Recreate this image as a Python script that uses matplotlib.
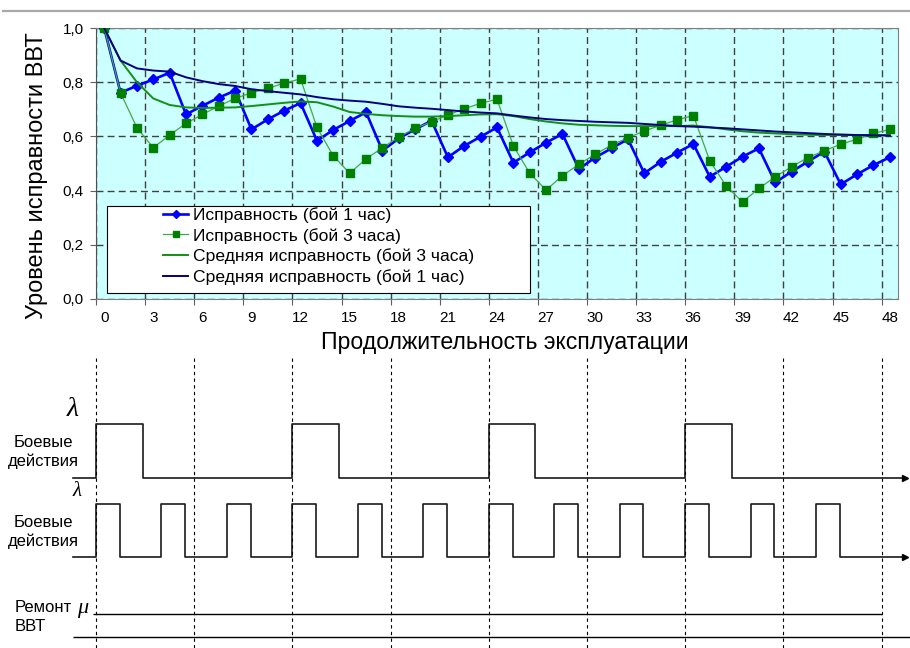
import matplotlib.pyplot as plt
import numpy as np
from matplotlib.lines import Line2D
from matplotlib.patches import Rectangle

plt.rcParams['font.family'] = ['Liberation Sans', 'DejaVu Sans']

# исходные данные (часы эксплуатации)
hours = np.arange(49)
ispr_1h = [1.0, 0.761, 0.787, 0.81, 0.835, 0.681, 0.713, 0.743, 0.769, 0.626,
           0.663, 0.695, 0.723, 0.584, 0.624, 0.657, 0.689, 0.547, 0.593, 0.626,
           0.658, 0.523, 0.565, 0.599, 0.633, 0.503, 0.541, 0.577, 0.609, 0.48,
           0.522, 0.556, 0.59, 0.464, 0.506, 0.54, 0.572, 0.451, 0.488, 0.525,
           0.556, 0.43, 0.47, 0.507, 0.544, 0.423, 0.46, 0.494, 0.523]
ispr_3h = [1.0, 0.761, 0.632, 0.558, 0.605, 0.648, 0.681, 0.712, 0.74, 0.761,
           0.777, 0.797, 0.812, 0.633, 0.528, 0.464, 0.517, 0.558, 0.598, 0.63,
           0.654, 0.679, 0.702, 0.722, 0.737, 0.565, 0.464, 0.402, 0.455, 0.497,
           0.534, 0.568, 0.595, 0.62, 0.641, 0.661, 0.677, 0.51, 0.417, 0.358,
           0.408, 0.451, 0.488, 0.522, 0.547, 0.571, 0.59, 0.611, 0.626]
sred_3h = [1.0, 0.88, 0.80, 0.74, 0.716, 0.707, 0.705, 0.706, 0.707, 0.712,
           0.718, 0.724, 0.729, 0.726, 0.71, 0.69, 0.683, 0.678, 0.675, 0.673,
           0.673, 0.675, 0.678, 0.681, 0.682, 0.675, 0.664, 0.655, 0.648, 0.643,
           0.641, 0.639, 0.638, 0.638, 0.638, 0.638, 0.64, 0.634, 0.626, 0.619,
           0.614, 0.611, 0.608, 0.606, 0.605, 0.605, 0.605, 0.605, 0.605]
sred_1h = [1.0, 0.88, 0.851, 0.843, 0.839, 0.818, 0.804, 0.793, 0.786, 0.774,
           0.767, 0.761, 0.755, 0.745, 0.737, 0.732, 0.728, 0.72, 0.711, 0.706,
           0.702, 0.697, 0.692, 0.688, 0.685, 0.677, 0.67, 0.664, 0.66, 0.657,
           0.654, 0.652, 0.65, 0.646, 0.642, 0.638, 0.636, 0.633, 0.63, 0.626,
           0.622, 0.618, 0.615, 0.612, 0.609, 0.607, 0.605, 0.604, 0.603]
labels = ['Исправность (бой 1 час)', 'Исправность (бой 3 часа)',
          'Средняя исправность (бой 3 часа)', 'Средняя исправность (бой 1 час)']

yticks = [0.0, 0.2, 0.4, 0.6, 0.8, 1.0]
ytick_labels = ['0,0', '0,2', '0,4', '0,6', '0,8', '1,0']
xticks = np.arange(0, 49, 3)

# график боевых действий и ремонта
boi_3h_start = [-0.5, 11.5, 23.5, 35.5]
boi_3h_len = 2.85
boi_1h_start = [-0.5, 3.5, 7.5, 11.5, 15.5, 19.5, 23.5, 27.5, 31.5, 35.5, 39.5, 43.5]
boi_1h_len = 1.45
razmetka = np.arange(-0.5, 48, 6)

W, H = 910, 648
fig = plt.figure(figsize=(W / 100, H / 100), dpi=100)
L, R, T, B = 96, 898, 28, 299
ax = fig.add_axes([L / W, 1 - B / H, (R - L) / W, (B - T) / H])
ax.set_facecolor('#CCFFFF')

ax.plot(hours, ispr_1h, color='#0000FF', lw=1.9, marker='D', ms=5.5, zorder=3)
ax.plot(hours, ispr_3h, color='#45A845', lw=0.9, marker='s', ms=5.5,
        mfc='#008000', mec='#008000', zorder=3)
ax.plot(hours, sred_3h, color='#138F13', lw=1.4, zorder=3)
ax.plot(hours, sred_1h, color='#000080', lw=1.4, zorder=3)

ax.set_xlim(-0.5, 48.5)
ax.set_ylim(0, 1.0)
ax.set_xticks(np.arange(-0.5, 49, 3))
ax.set_xticks(xticks, [str(v) for v in xticks], minor=True)
ax.tick_params(axis='x', which='major', length=4, labelbottom=False, color='#606060')
ax.tick_params(axis='x', which='minor', length=0, labelsize=11, pad=9)
ax.set_yticks(yticks, ytick_labels)
ax.tick_params(axis='y', length=4, labelsize=11, pad=5, color='#606060')
ax.grid(True, which='major', color='#404040', linestyle=(0, (5, 3)), lw=1)
for s in ax.spines.values():
    s.set_color('#808080')
ax.spines['left'].set_color('#505050')

# легенда в рамке
ax.add_patch(Rectangle((107 / W, 1 - 293 / H), 423 / W, 87 / H, transform=fig.transFigure,
                       facecolor='white', edgecolor='black', lw=0.8, zorder=4.5, clip_on=False))
ax.legend(ax.get_lines(), labels, loc='upper left', bbox_to_anchor=(163 / W, 1 - 207 / H),
          bbox_transform=fig.transFigure, frameon=False, fontsize=12.6, borderpad=0,
          borderaxespad=0, labelspacing=0.28, handlelength=1.45, handletextpad=0.25,
          markerscale=0.7)

fig.text(37 / W, 1 - 176 / H, 'Уровень исправности ВВТ', rotation=90, fontsize=17,
         ha='center', va='center')
fig.text(505 / W, 1 - 342 / H, 'Продолжительность эксплуатации', fontsize=16.6,
         ha='center', va='center')

fig.add_artist(Line2D([3 / W, 1], [1 - 11 / H] * 2, color='#A8A8A8', lw=1.6))

# нижняя схема
ax2 = fig.add_axes([0, 0, 1, 1])
ppu = (R - L) / 49
x0 = -0.5 - L / ppu
ax2.set_xlim(x0, 48.5 + (W - R) / ppu)
ax2.set_ylim(H, 0)
ax2.axis('off')


def px(p):
    return x0 + p / ppu


def volna(starts, dlina, base, amp):
    xs, ys = [px(73)], [base]
    for s in starts:
        xs += [s, s, s + dlina, s + dlina]
        ys += [base, base - amp, base - amp, base]
    xs.append(px(904))
    ys.append(base)
    ax2.plot(xs, ys, color='#1a1a1a', lw=1.2)
    ax2.plot(px(905), base, marker='>', ms=5, color='black')


volna(boi_3h_start, boi_3h_len, 478, 54)
volna(boi_1h_start, boi_1h_len, 557, 53)
ax2.vlines(razmetka, 358, H, colors='black', lw=0.8, linestyles=(0, (3, 3)))
ax2.hlines(614, px(93), razmetka[-1], colors='black', lw=1)
ax2.hlines(637, px(73), px(W), colors='black', lw=1)

fig.text(43 / W, 1 - 452 / H, 'Боевые\nдействия', fontsize=12, ha='center', va='center',
         linespacing=1.3)
fig.text(43 / W, 1 - 532 / H, 'Боевые\nдействия', fontsize=12, ha='center', va='center',
         linespacing=1.3)
fig.text(15 / W, 1 - 617 / H, 'Ремонт\nВВТ', fontsize=12, ha='left', va='center',
         linespacing=1.3)
fig.text(73 / W, 1 - 409 / H, 'λ', fontsize=20, fontstyle='italic',
         family='Liberation Serif', ha='center', va='center')
fig.text(77 / W, 1 - 492 / H, 'λ', fontsize=15, fontstyle='italic',
         family='Liberation Serif', ha='center', va='center')
fig.text(83 / W, 1 - 609 / H, 'μ', fontsize=16, fontstyle='italic',
         family='Liberation Serif', ha='center', va='center')

fig.savefig('out.png', dpi=100)
